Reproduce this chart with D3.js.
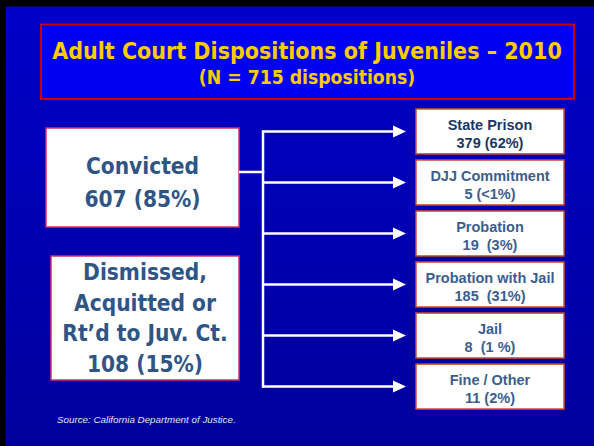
<!DOCTYPE html>
<html>
<head>
<meta charset="utf-8">
<script src="https://cdn.jsdelivr.net/npm/d3@7"></script>
<style>
  html, body { margin: 0; padding: 0; background: #000; }
  svg { display: block; }
  .cond { font-family: "DejaVu Sans Condensed", "DejaVu Sans", sans-serif; font-stretch: condensed; font-weight: bold; }
  .arial { font-family: "Liberation Sans", Arial, sans-serif; font-weight: bold; }
</style>
</head>
<body>
<script>
// ---------- data ----------
const titleText = "Adult Court Dispositions of Juveniles – 2010";
const subtitleText = "(N = 715 dispositions)";
const sourceText = "Source: California Department of Justice.";

const groups = ["Convicted", "Dismissed"];
const groupLabels = [["Convicted"], ["Dismissed,", "Acquitted or", "Rt’d to Juv. Ct."]];
const groupCounts = [607, 108];
const groupPcts = ["85%", "15%"];

const outcomes = ["State Prison", "DJJ Commitment", "Probation", "Probation with Jail", "Jail", "Fine / Other"];
const outcomeCounts = [379, 5, 19, 185, 8, 11];
const outcomePcts = ["62%", "<1%", "3%", "31%", "1 %", "2%"];
const outcomeSeps = [" ", " ", "  ", "  ", "  ", " "];

// ---------- layout ----------
const W = 594, H = 446;
const svg = d3.select("body").append("svg").attr("width", W).attr("height", H);

const defs = svg.append("defs");
const grad = defs.append("linearGradient").attr("id", "bg").attr("x1", 0).attr("y1", 0).attr("x2", 0).attr("y2", 1);
grad.append("stop").attr("offset", "0%").attr("stop-color", "#0000c8");
grad.append("stop").attr("offset", "100%").attr("stop-color", "#00009c");

svg.append("rect").attr("x", 0).attr("y", 0).attr("width", W).attr("height", H).attr("fill", "#000");
svg.append("rect").attr("x", 6).attr("y", 6.5).attr("width", W - 6).attr("height", H - 6.5).attr("fill", "url(#bg)");

// title box
svg.append("rect").attr("x", 41).attr("y", 24.5).attr("width", 533).attr("height", 74.5)
  .attr("fill", "#0000f2").attr("stroke", "#cc0000").attr("stroke-width", 2);
svg.append("text").attr("class", "cond").attr("x", 307).attr("y", 58.7)
  .attr("text-anchor", "middle").attr("font-size", 23).attr("fill", "#ffcc00").text(titleText);
svg.append("text").attr("class", "cond").attr("x", 307).attr("y", 84.3)
  .attr("text-anchor", "middle").attr("font-size", 19.2).attr("fill", "#ffcc00").text(subtitleText);

// ---------- left group boxes ----------
const gTop = d3.scaleOrdinal().domain(groups).range([128, 256]);
const gLeft = d3.scaleOrdinal().domain(groups).range([46, 51]);
const gHeight = d3.scaleOrdinal().domain(groups).range([99, 124]);
const gLineH = d3.scaleOrdinal().domain(groups).range([33, 30.5]);
const gFirstOffset = d3.scaleOrdinal().domain(groups).range([-3.5, -38]);
const gRight = 239;

groups.forEach((g, i) => {
  const lines = groupLabels[i].concat([`${groupCounts[i]} (${groupPcts[i]})`]);
  const top = gTop(g);
  const h = gHeight(g);
  const left = gLeft(g);
  svg.append("rect").attr("x", left).attr("y", top).attr("width", gRight - left).attr("height", h)
    .attr("fill", "#ffffff").attr("stroke", "#d0306a").attr("stroke-width", 1.5);
  const cx = (left + gRight) / 2;
  const firstBase = top + h / 2 + gFirstOffset(g);
  svg.append("text").attr("class", "cond").attr("font-size", 22.5).attr("fill", "#2f5585")
    .attr("text-anchor", "middle")
    .selectAll("tspan").data(lines).join("tspan")
    .attr("x", cx).attr("y", (d, k) => firstBase + k * gLineH(g)).text(d => d);
});

// ---------- right outcome boxes ----------
const y = d3.scaleBand().domain(outcomes).range([109, 409]).paddingInner(0.12).paddingOuter(0);
const xBox0 = 416, xBox1 = 564;
const xTrunk = 263, xArrowTip = 406;

const rows = svg.append("g").selectAll("g").data(outcomes).join("g");
rows.append("rect").attr("x", xBox0).attr("y", d => y(d)).attr("width", xBox1 - xBox0).attr("height", y.bandwidth())
  .attr("fill", "#ffffff").attr("stroke", "#d4502a").attr("stroke-width", 1.5);
const txt = rows.append("text").attr("class", "arial").attr("font-size", 14.5)
  .attr("text-anchor", "middle").style("white-space", "pre")
  .attr("fill", (d, i) => i === 0 ? "#1c3666" : "#3b5e8e");
txt.append("tspan").attr("x", (xBox0 + xBox1) / 2).attr("y", d => y(d) + y.bandwidth() / 2 - 1.5).text(d => d);
txt.append("tspan").attr("x", (xBox0 + xBox1) / 2).attr("y", d => y(d) + y.bandwidth() / 2 + 16.5)
  .text((d, i) => `${outcomeCounts[i]}${outcomeSeps[i]}(${outcomePcts[i]})`);

// ---------- connectors ----------
const mid = d => y(d) + y.bandwidth() / 2;
const conn = svg.append("g").attr("stroke", "#ffffff").attr("stroke-width", 2.5).attr("fill", "none");
conn.append("line").attr("x1", gRight).attr("x2", xTrunk + 1.25).attr("y1", 172).attr("y2", 172);
conn.append("line").attr("x1", xTrunk).attr("x2", xTrunk)
  .attr("y1", mid(outcomes[0]) - 1.25).attr("y2", mid(outcomes[outcomes.length - 1]) + 1.25);
conn.selectAll("line.arm").data(outcomes).join("line").attr("class", "arm")
  .attr("x1", xTrunk).attr("x2", xArrowTip - 12).attr("y1", mid).attr("y2", mid);
svg.append("g").selectAll("path").data(outcomes).join("path")
  .attr("d", d => `M${xArrowTip - 13},${mid(d) - 6}L${xArrowTip},${mid(d)}L${xArrowTip - 13},${mid(d) + 6}Z`)
  .attr("fill", "#ffffff");

// ---------- source ----------
svg.append("text").attr("x", 57).attr("y", 423)
  .attr("font-family", "'Liberation Sans', Arial, sans-serif").attr("font-style", "italic")
  .attr("font-size", 9.8).attr("fill", "#e4e4f4").text(sourceText);
</script>
</body>
</html>
